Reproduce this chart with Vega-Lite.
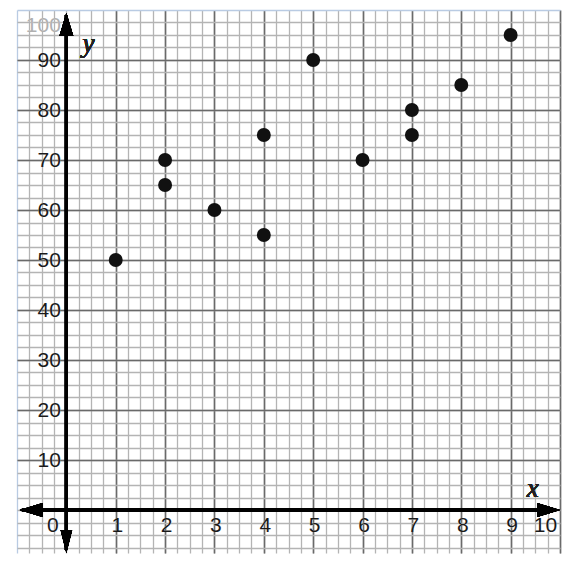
{
  "$schema": "https://vega.github.io/schema/vega-lite/v6.json",
  "width": 543,
  "height": 543,
  "autosize": "none",
  "padding": {"left": 17, "top": 10, "right": 12, "bottom": 12},
  "background": "white",
  "config": {"view": {"stroke": null}},
  "data": {"values": [
    {"x": 1, "y": 50}, {"x": 2, "y": 70}, {"x": 2, "y": 65}, {"x": 3, "y": 60},
    {"x": 4, "y": 75}, {"x": 4, "y": 55}, {"x": 5, "y": 90}, {"x": 6, "y": 70},
    {"x": 7, "y": 80}, {"x": 7, "y": 75}, {"x": 8, "y": 85}, {"x": 9, "y": 95}
  ]},
  "layer": [
    {
      "mark": {"type": "circle", "opacity": 0},
      "encoding": {
        "x": {"field": "x", "type": "quantitative", "scale": {"domain": [-1, 10], "nice": false, "zero": false},
          "axis": {"orient": "bottom", "values": [-1,-0.75,-0.5,-0.25,0,0.25,0.5,0.75,1,1.25,1.5,1.75,2,2.25,2.5,2.75,3,3.25,3.5,3.75,4,4.25,4.5,4.75,5,5.25,5.5,5.75,6,6.25,6.5,6.75,7,7.25,7.5,7.75,8,8.25,8.5,8.75,9,9.25,9.5,9.75,10],
            "labels": false, "ticks": false, "domain": false, "grid": true, "title": null,
            "gridColor": {"condition": {"test": "datum.value == -1", "value": "#b9cbe3"}, "value": "#b4b4b4"}, "gridWidth": 1.3, "zindex": 0}},
        "y": {"field": "y", "type": "quantitative", "scale": {"domain": [-8.6, 100], "nice": false, "zero": false},
          "axis": {"orient": "left", "values": [-7.5,-5,-2.5,0,2.5,5,7.5,10,12.5,15,17.5,20,22.5,25,27.5,30,32.5,35,37.5,40,42.5,45,47.5,50,52.5,55,57.5,60,62.5,65,67.5,70,72.5,75,77.5,80,82.5,85,87.5,90,92.5,95,97.5,100],
            "labels": false, "ticks": false, "domain": false, "grid": true, "title": null,
            "gridColor": {"condition": {"test": "datum.value == 100", "value": "#b9cbe3"}, "value": "#b4b4b4"}, "gridWidth": 1.3, "zindex": 0}}
      }
    },
    {
      "mark": {"type": "circle", "opacity": 0},
      "encoding": {
        "x": {"field": "x", "type": "quantitative", "scale": {"domain": [-1, 10], "nice": false, "zero": false},
          "axis": {"orient": "bottom", "values": [1,2,3,4,5,6,7,8,9,10],
            "labels": false, "ticks": false, "domain": false, "grid": true, "title": null,
            "gridColor": "#6a6a6a", "gridWidth": 1.6, "zindex": 0}},
        "y": {"field": "y", "type": "quantitative", "scale": {"domain": [-8.6, 100], "nice": false, "zero": false},
          "axis": {"orient": "left", "values": [10,20,30,40,50,60,70,80,90],
            "labels": false, "ticks": false, "domain": false, "grid": true, "title": null,
            "gridColor": "#6a6a6a", "gridWidth": 1.6, "zindex": 0}}
      }
    },
    {
      "mark": {"type": "circle", "opacity": 0},
      "encoding": {
        "x": {"field": "x", "type": "quantitative", "scale": {"domain": [-1, 10], "nice": false, "zero": false},
          "axis": {"orient": "bottom", "offset": -43, "values": [0,1,2,3,4,5,6,7,8,9,10], "format": "d",
            "grid": false, "ticks": false, "tickSize": 0, "domain": false, "title": null,
            "labelPadding": 4, "labelFont": "Liberation Sans", "labelFontSize": 21, "labelColor": "white",
            "labelFlush": false, "labelOverlap": false, "labelBound": false,
            "labelOffset": {"condition": [{"test": "datum.value == 0", "value": -14}, {"test": "datum.value == 10", "value": -15}], "value": 1},
            "encoding": {"labels": {"update": {"stroke": {"value": "white"}, "strokeWidth": {"value": 5}, "strokeJoin": {"value": "round"}}}},
            "zindex": 1}},
        "y": {"field": "y", "type": "quantitative", "scale": {"domain": [-8.6, 100], "nice": false, "zero": false},
          "axis": {"orient": "left", "offset": -49.4, "values": [10,20,30,40,50,60,70,80,90,100], "format": "d",
            "grid": false, "ticks": false, "tickSize": 0, "domain": false, "title": null,
            "labelPadding": 6, "labelFont": "Liberation Sans", "labelFontSize": 21, "labelColor": "white",
            "labelFlush": false, "labelOverlap": false, "labelBound": false,
            "labelOffset": {"condition": {"test": "datum.value == 100", "value": 15}, "value": 0},
            "encoding": {"labels": {"update": {"stroke": {"value": "white"}, "strokeWidth": {"value": 5}, "strokeJoin": {"value": "round"}}}},
            "zindex": 1}}
      }
    },
    {
      "mark": {"type": "circle", "opacity": 1, "color": "#111111", "size": 195},
      "encoding": {
        "x": {"field": "x", "type": "quantitative", "scale": {"domain": [-1, 10], "nice": false, "zero": false},
          "axis": {"orient": "bottom", "offset": -43, "values": [0,1,2,3,4,5,6,7,8,9,10], "format": "d",
            "grid": false, "ticks": false, "tickSize": 0, "domain": false, "title": null,
            "labelPadding": 4, "labelFont": "Liberation Sans", "labelFontSize": 21, "labelColor": "#1a1a1a",
            "labelFlush": false, "labelOverlap": false, "labelBound": false,
            "labelOffset": {"condition": [{"test": "datum.value == 0", "value": -14}, {"test": "datum.value == 10", "value": -15}], "value": 1},
            "zindex": 2}},
        "y": {"field": "y", "type": "quantitative", "scale": {"domain": [-8.6, 100], "nice": false, "zero": false},
          "axis": {"orient": "left", "offset": -49.4, "values": [10,20,30,40,50,60,70,80,90,100], "format": "d",
            "grid": false, "ticks": false, "tickSize": 0, "domain": false, "title": null,
            "labelPadding": 6, "labelFont": "Liberation Sans", "labelFontSize": 21,
            "labelColor": {"condition": {"test": "datum.value == 100", "value": "#b0b0b0"}, "value": "#1a1a1a"},
            "labelFlush": false, "labelOverlap": false, "labelBound": false,
            "labelOffset": {"condition": {"test": "datum.value == 100", "value": 15}, "value": 0},
            "zindex": 2}}
      }
    },
    {
      "mark": {"type": "rule", "color": "black", "strokeWidth": 3},
      "encoding": {
        "x": {"datum": -0.9, "type": "quantitative", "axis": null},
        "x2": {"datum": 9.9},
        "y": {"datum": 0, "type": "quantitative", "axis": null}
      }
    },
    {
      "mark": {"type": "rule", "color": "black", "strokeWidth": 3},
      "encoding": {
        "x": {"datum": 0, "type": "quantitative", "axis": null},
        "y": {"datum": -8.0, "type": "quantitative", "axis": null},
        "y2": {"datum": 99}
      }
    },
    {
      "mark": {"type": "point", "shape": "M0,0L2,-0.6L2,0.6Z", "filled": true, "size": 529, "color": "black", "opacity": 1},
      "encoding": {
        "x": {"datum": -0.946, "type": "quantitative", "axis": null},
        "y": {"datum": 0, "type": "quantitative", "axis": null}
      }
    },
    {
      "mark": {"type": "point", "shape": "M0,0L-2,-0.6L-2,0.6Z", "filled": true, "size": 529, "color": "black", "opacity": 1},
      "encoding": {
        "x": {"datum": 10, "type": "quantitative", "axis": null},
        "y": {"datum": 0, "type": "quantitative", "axis": null}
      }
    },
    {
      "mark": {"type": "point", "shape": "M0,0L-0.6,2L0.6,2Z", "filled": true, "size": 529, "color": "black", "opacity": 1},
      "encoding": {
        "x": {"datum": 0, "type": "quantitative", "axis": null},
        "y": {"datum": 99.4, "type": "quantitative", "axis": null}
      }
    },
    {
      "mark": {"type": "point", "shape": "M0,0L-0.5,-2L0.5,-2Z", "filled": true, "size": 529, "color": "black", "opacity": 1},
      "encoding": {
        "x": {"datum": 0, "type": "quantitative", "axis": null},
        "y": {"datum": -8.6, "type": "quantitative", "axis": null}
      }
    },
    {
      "mark": {"type": "text", "text": "y", "font": "Liberation Serif", "fontStyle": "italic", "fontWeight": "normal", "fontSize": 27, "align": "center", "baseline": "alphabetic", "color": "#222222"},
      "encoding": {
        "x": {"datum": 0.45, "type": "quantitative", "axis": null},
        "y": {"datum": 91.6, "type": "quantitative", "axis": null}
      }
    },
    {
      "mark": {"type": "text", "text": "x", "font": "Liberation Serif", "fontStyle": "italic", "fontWeight": "normal", "fontSize": 27, "align": "center", "baseline": "alphabetic", "color": "#222222"},
      "encoding": {
        "x": {"datum": 9.45, "type": "quantitative", "axis": null},
        "y": {"datum": 2.6, "type": "quantitative", "axis": null}
      }
    }
  ],
  "resolve": {"axis": {"x": "independent", "y": "independent"}}
}
